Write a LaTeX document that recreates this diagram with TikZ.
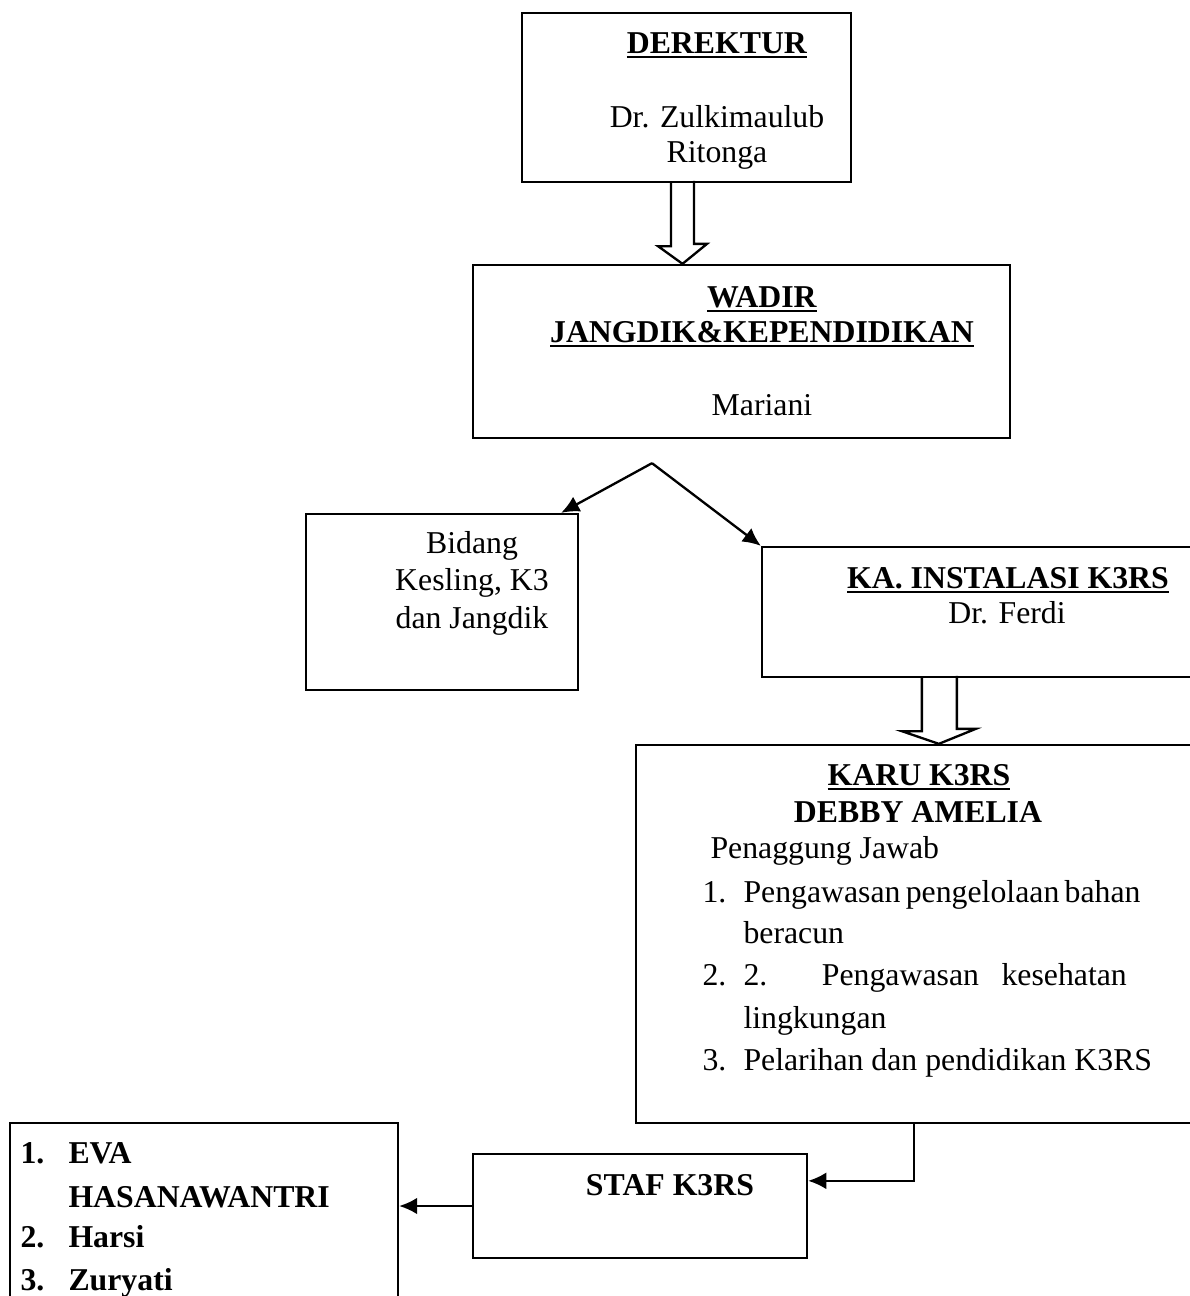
\documentclass[tikz,border=0pt]{standalone}
\usepackage{fontspec}
\setmainfont{Liberation Serif}
\usetikzlibrary{arrows.meta,calc,fit}
\newcommand{\ulhead}[1]{\setbox0\hbox{\textbf{#1}}\copy0\llap{\rule[-2.1pt]{\wd0}{0.9pt}}}

\begin{document}
\begin{tikzpicture}
  [x=0.3871pt, y=-0.3871pt,
   box/.style={draw, line width=0.9pt, inner sep=0pt},
   txt/.style={anchor=base, inner sep=0pt, font=\fontsize{12.3pt}{14pt}\selectfont},
   ltxt/.style={txt, anchor=base west},
   hollow/.style={draw, line width=0.9pt, line join=miter},
   arr/.style={-{Latex[length=7pt,width=6.5pt]}, line width=0.9pt}]
  \clip (0,0) rectangle (1190,1296);
  % boxes
  \node[box, fit={(522,13) (851,182)}] (derektur) {};
  \node[box, fit={(473,265) (1010,438)}] (wadir) {};
  \node[box, fit={(306,514) (578,690)}] (bidang) {};
  \node[box, fit={(762,547) (1210,677)}] (kainst) {};
  \node[box, fit={(636,745) (1210,1123)}] (karu) {};
  \node[box, fit={(473,1154) (807,1258)}] (staf) {};
  \node[box, fit={(10,1123) (398,1320)}] (anggota) {};
  % texts
  \node[txt] (derektur-t) at (717,53) {\ulhead{DEREKTUR}};
  \node[txt] (derektur-n1) at (717,127) {Dr. Zulkimaulub};
  \node[txt] (derektur-n2) at (717,162) {Ritonga};
  \node[txt] (wadir-t1) at (762,307) {\ulhead{WADIR}};
  \node[txt] (wadir-t2) at (762,342) {\ulhead{JANGDIK\&KEPENDIDIKAN}};
  \node[txt] (wadir-n) at (762,415) {Mariani};
  \node[txt] (bidang-1) at (472,553) {Bidang};
  \node[txt] (bidang-2) at (472,590) {Kesling, K3};
  \node[txt] (bidang-3) at (472,628) {dan Jangdik};
  \node[txt] (kainst-t) at (1008,588) {\ulhead{KA. INSTALASI K3RS}};
  \node[txt] (kainst-n) at (1007,623) {Dr. Ferdi};
  \node[txt] (karu-t) at (919,785) {\ulhead{KARU K3RS}};
  \node[txt] (karu-n) at (918,822) {\textbf{DEBBY AMELIA}};
  \node[ltxt] (karu-pj) at (710,858) {Penaggung Jawab};
  \node[ltxt] (karu-1) at (702,902) {1.};
  \node[ltxt] (karu-1a) at (743,902) {\makebox[148.4pt][s]{Pengawasan pengelolaan bahan}};
  \node[ltxt] (karu-1b) at (743,943) {beracun};
  \node[ltxt] (karu-2) at (702,985) {2.};
  \node[ltxt] (karu-2a) at (743,985) {\makebox[148.4pt][s]{2. Pengawasan kesehatan}};
  \node[ltxt] (karu-2b) at (743,1028) {lingkungan};
  \node[ltxt] (karu-3) at (702,1070) {3.};
  \node[ltxt] (karu-3a) at (743,1070) {Pelarihan dan pendidikan K3RS};
  \node[txt] (staf-t) at (670,1195) {\textbf{STAF K3RS}};
  \node[ltxt] (anggota-1) at (20,1163) {\textbf{1.}};
  \node[ltxt] (anggota-1a) at (68,1163) {\textbf{EVA}};
  \node[ltxt] (anggota-1b) at (68,1207) {\textbf{HASANAWANTRI}};
  \node[ltxt] (anggota-2) at (20,1247) {\textbf{2.}};
  \node[ltxt] (anggota-2a) at (68,1247) {\textbf{Harsi}};
  \node[ltxt] (anggota-3) at (20,1290) {\textbf{3.}};
  \node[ltxt] (anggota-3a) at (68,1290) {\textbf{Zuryati}};
  % connectors
  \draw[hollow] ($(derektur.south)+(-15.5,0)$) -- ++(0,63) -- ++(-13,0)
    -- ($(derektur.south |- wadir.north)+(-4,0)$) -- ++(24.5,-20) -- ++(-13,0) -- ++(0,-63);
  \coordinate (fork) at ($(wadir.south)+(-89.5,24)$);
  \draw[arr] (fork) -- ($(bidang.north east)+(-18,0)$);
  \draw[arr] (fork) -- (kainst.north west);
  \draw[hollow] ($(kainst.south west)+(161,0)$) -- ++(0,53) -- ++(-20,0)
    -- ($(kainst.south west |- karu.north)+(178,0)$) -- ++(37,-15) -- ++(-19,0) -- ++(0,-53);
  \draw[arr] ($(karu.south west)+(279,0)$) |- ($(staf.north east)+(0,28)$);
  \draw[arr] (staf.west) -- (staf.west -| anggota.east);
\end{tikzpicture}
\end{document}
